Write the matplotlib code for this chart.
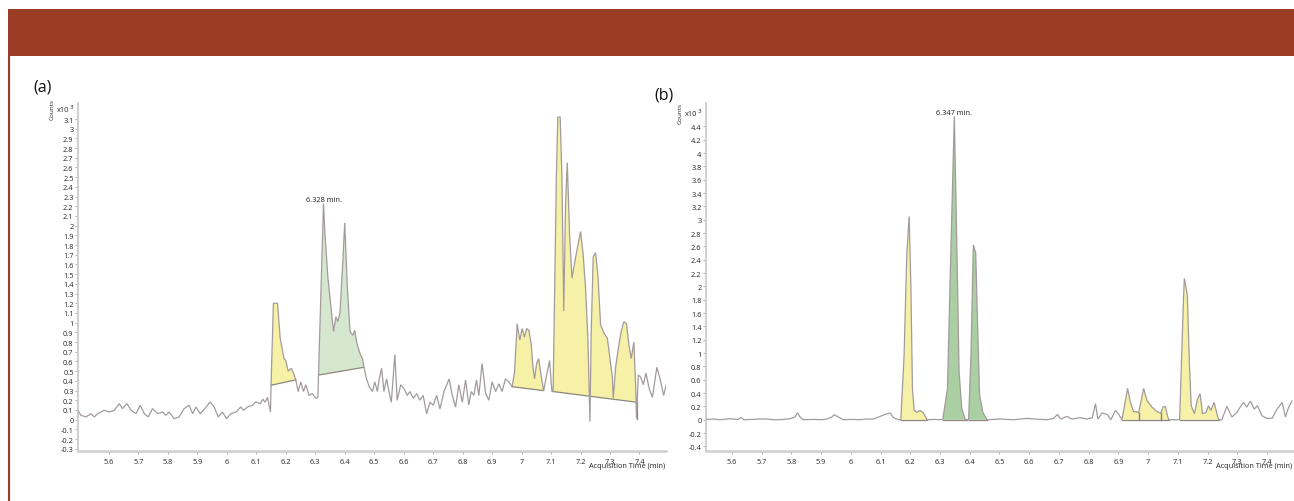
import numpy as np
import matplotlib
matplotlib.use("Agg")
import matplotlib.pyplot as plt
from matplotlib.patches import Rectangle
from matplotlib.lines import Line2D

plt.rcParams['font.family'] = ['Open Sans', 'DejaVu Sans']

W, H = 1294, 502

# ---------------- Panel (a) data (x10^3 counts) ----------------
a_time = [5.494, 5.505, 5.522, 5.539, 5.550, 5.562, 5.584, 5.601, 5.618, 5.635,
          5.646, 5.661, 5.675, 5.692, 5.706, 5.720, 5.733, 5.748, 5.765, 5.782,
          5.793, 5.804, 5.821, 5.838, 5.855, 5.872, 5.884, 5.895, 5.910, 5.925,
          5.943, 5.957, 5.971, 5.985, 5.999, 6.014, 6.031, 6.047, 6.057, 6.070,
          6.087, 6.098, 6.113, 6.122, 6.130, 6.138, 6.148, 6.150, 6.158, 6.172,
          6.181, 6.194, 6.200, 6.208, 6.219, 6.226, 6.234, 6.242, 6.251, 6.260,
          6.268, 6.279, 6.290, 6.302, 6.309, 6.311, 6.328, 6.333, 6.343, 6.355,
          6.362, 6.370, 6.377, 6.384, 6.393, 6.400, 6.409, 6.418, 6.427, 6.434,
          6.441, 6.452, 6.460, 6.465, 6.474, 6.483, 6.494, 6.502, 6.511, 6.517,
          6.525, 6.533, 6.542, 6.550, 6.558, 6.570, 6.578, 6.590, 6.601, 6.612,
          6.621, 6.633, 6.644, 6.655, 6.666, 6.678, 6.689, 6.700, 6.712, 6.723,
          6.737, 6.754, 6.765, 6.776, 6.787, 6.799, 6.810, 6.821, 6.829, 6.838,
          6.847, 6.855, 6.866, 6.878, 6.889, 6.900, 6.912, 6.923, 6.934, 6.945,
          6.957, 6.968, 6.976, 6.985, 6.994, 7.002, 7.010, 7.017, 7.025, 7.033,
          7.039, 7.044, 7.051, 7.058, 7.066, 7.075, 7.087, 7.095, 7.103, 7.107,
          7.118, 7.123, 7.131, 7.137, 7.143, 7.149, 7.155, 7.163, 7.171, 7.183,
          7.200, 7.209, 7.217, 7.225, 7.232, 7.236, 7.243, 7.251, 7.259, 7.268,
          7.280, 7.291, 7.300, 7.308, 7.311, 7.319, 7.330, 7.338, 7.347, 7.356,
          7.364, 7.372, 7.381, 7.387, 7.390, 7.396, 7.404, 7.413, 7.422, 7.433,
          7.444, 7.459, 7.470, 7.482, 7.493]
a_counts = [0.097, 0.045, 0.028, 0.062, 0.028, 0.062, 0.097, 0.079, 0.097, 0.165,
            0.114, 0.165, 0.097, 0.062, 0.148, 0.062, 0.028, 0.114, 0.062, 0.079,
            0.045, 0.079, 0.010, 0.028, 0.114, 0.148, 0.062, 0.131, 0.062, 0.114,
            0.183, 0.131, 0.028, 0.079, 0.010, 0.062, 0.079, 0.131, 0.097, 0.131,
            0.148, 0.183, 0.165, 0.21, 0.18, 0.23, 0.08, 0.355, 1.20, 1.20,
            0.84, 0.63, 0.61, 0.50, 0.53, 0.48, 0.41, 0.29, 0.39, 0.29,
            0.36, 0.25, 0.27, 0.22, 0.23, 0.46, 2.23, 1.91, 1.46, 1.11,
            0.91, 1.06, 1.01, 1.11, 1.60, 2.03, 1.35, 0.91, 0.87, 0.92,
            0.79, 0.68, 0.63, 0.54, 0.42, 0.34, 0.29, 0.39, 0.29, 0.42,
            0.53, 0.29, 0.42, 0.29, 0.18, 0.67, 0.20, 0.36, 0.32, 0.25,
            0.29, 0.22, 0.27, 0.20, 0.25, 0.06, 0.18, 0.15, 0.25, 0.11,
            0.29, 0.42, 0.25, 0.13, 0.36, 0.18, 0.41, 0.15, 0.29, 0.25,
            0.41, 0.25, 0.58, 0.27, 0.20, 0.39, 0.29, 0.37, 0.29, 0.42,
            0.39, 0.34, 0.49, 0.99, 0.82, 0.94, 0.85, 0.94, 0.92, 0.77,
            0.53, 0.42, 0.58, 0.63, 0.46, 0.30, 0.49, 0.61, 0.29, 0.29,
            2.50, 3.12, 3.12, 2.49, 1.12, 2.20, 2.65, 1.90, 1.46, 1.67,
            1.94, 1.70, 1.36, 0.84, -0.02, 0.87, 1.68, 1.72, 1.49, 0.98,
            0.89, 0.84, 0.63, 0.44, 0.22, 0.54, 0.77, 0.91, 1.01, 0.99,
            0.77, 0.63, 0.80, 0.36, 0.01, 0.46, 0.44, 0.36, 0.48, 0.32,
            0.23, 0.54, 0.42, 0.25, 0.39]
# integrated peaks: start, end, baseline at start, baseline at end, colour kind
a_peak_start = [6.150, 6.311, 6.968, 7.107]
a_peak_end = [6.234, 6.465, 7.075, 7.390]
a_base_start = [0.355, 0.46, 0.34, 0.29]
a_base_end = [0.41, 0.54, 0.30, 0.18]
a_peak_kind = ['yellow', 'green', 'yellow', 'yellow']
a_label_time, a_label_value, a_label_text = 6.328, 2.23, '6.328 min.'

# ---------------- Panel (b) data (x10^3 counts) ----------------
b_time = [5.515, 5.540, 5.560, 5.593, 5.621, 5.630, 5.640, 5.672, 5.700, 5.717,
          5.740, 5.762, 5.795, 5.812, 5.820, 5.829, 5.840, 5.874, 5.900, 5.919,
          5.936, 5.944, 5.958, 5.975, 6.008, 6.031, 6.053, 6.076, 6.098, 6.115,
          6.132, 6.143, 6.160, 6.168, 6.179, 6.188, 6.196, 6.202, 6.207, 6.213,
          6.222, 6.233, 6.244, 6.256, 6.280, 6.309, 6.325, 6.336, 6.348, 6.356,
          6.364, 6.373, 6.384, 6.392, 6.396, 6.404, 6.412, 6.420, 6.426, 6.433,
          6.444, 6.458, 6.502, 6.547, 6.592, 6.620, 6.660, 6.682, 6.695, 6.706,
          6.727, 6.743, 6.770, 6.795, 6.812, 6.823, 6.831, 6.845, 6.862, 6.875,
          6.890, 6.901, 6.912, 6.931, 6.940, 6.951, 6.962, 6.968, 6.985, 6.996,
          7.013, 7.030, 7.043, 7.050, 7.058, 7.063, 7.069, 7.080, 7.106, 7.119,
          7.122, 7.132, 7.139, 7.145, 7.156, 7.166, 7.175, 7.183, 7.195, 7.203,
          7.211, 7.222, 7.237, 7.248, 7.265, 7.282, 7.299, 7.310, 7.321, 7.332,
          7.344, 7.357, 7.368, 7.383, 7.400, 7.417, 7.434, 7.451, 7.462, 7.473,
          7.484]
b_counts = [0.005, 0.01, 0.0, 0.015, 0.005, 0.035, 0.0, 0.005, 0.012, 0.01,
            0.0, 0.0, 0.015, 0.04, 0.105, 0.04, 0.0, 0.005, 0.0, 0.01,
            0.04, 0.075, 0.04, 0.0, 0.005, 0.0, 0.01, 0.01, 0.05, 0.08,
            0.10, 0.03, 0.0, 0.0, 0.97, 2.47, 3.05, 1.97, 0.47, 0.14,
            0.11, 0.14, 0.10, 0.0, 0.005, 0.0, 0.47, 2.47, 4.55, 2.72,
            0.72, 0.17, 0.01, 0.0, 0.0, 0.97, 2.62, 2.50, 1.47, 0.37,
            0.11, 0.0, 0.01, 0.0, 0.02, 0.01, 0.0, 0.02, 0.08, 0.01,
            0.05, 0.01, 0.03, 0.01, 0.03, 0.24, 0.01, 0.10, 0.08, 0.0,
            0.14, 0.08, 0.0, 0.47, 0.27, 0.12, 0.12, 0.10, 0.47, 0.29,
            0.19, 0.12, 0.10, 0.19, 0.20, 0.10, 0.0, 0.0, 0.0, 1.81,
            2.12, 1.87, 0.82, 0.21, 0.09, 0.31, 0.39, 0.09, 0.11, 0.21,
            0.14, 0.26, 0.0, 0.0, 0.20, 0.04, 0.11, 0.19, 0.26, 0.19,
            0.28, 0.16, 0.21, 0.06, 0.02, 0.02, 0.16, 0.26, 0.04, 0.19,
            0.28]
b_peak_start = [6.168, 6.309, 6.396, 6.912, 6.968, 7.043, 7.106]
b_peak_end = [6.256, 6.392, 6.458, 6.968, 7.043, 7.069, 7.237]
b_base_start = [0.0, 0.0, 0.0, 0.0, 0.0, 0.0, 0.0]
b_base_end = [0.0, 0.0, 0.0, 0.0, 0.0, 0.0, 0.0]
b_peak_kind = ['yellow', 'green', 'green', 'yellow', 'yellow', 'yellow', 'yellow']
b_label_time, b_label_value, b_label_text = 6.347, 4.55, '6.347 min.'

# tick labels
x_ticks = [5.6, 5.7, 5.8, 5.9, 6.0, 6.1, 6.2, 6.3, 6.4, 6.5, 6.6, 6.7, 6.8, 6.9,
           7.0, 7.1, 7.2, 7.3, 7.4]
a_yticks = [round(-0.3 + 0.1 * i, 1) for i in range(35)]
b_yticks = [round(-0.4 + 0.2 * i, 1) for i in range(25)]

# ---------------- styling ----------------
BROWN = '#9b3c26'
TRACE = '#a39b9b'
EDGE = '#8c877c'
FILLS = {'yellow': '#f6f1a6', 'green': None}
GREEN_A = '#d5e7cf'
GREEN_B = '#a9cfa3'


def fmt(v):
    if abs(v - round(v)) < 1e-9:
        return '%d' % round(v)
    s = '%.1f' % v
    return s


fig = plt.figure(figsize=(W / 100, H / 100), dpi=100)
fig.patch.set_facecolor('white')

# header bar and left border
fig.patches.append(Rectangle((8 / W, 1 - 57 / H), (W - 8) / W, 47 / H,
                             transform=fig.transFigure, facecolor=BROWN,
                             edgecolor='none', zorder=0))
fig.lines.append(Line2D([8.5 / W, 8.5 / W], [0, 1 - 57 / H], transform=fig.transFigure,
                        color=BROWN, lw=1.5))


def px(x, y):
    return x / W, 1 - y / H


def make_panel(rect_px, xlim, ylim, t, v, starts, ends, bs, be, kinds, green,
               yticks, label, label_time, label_value, top_label_y, panel_letter,
               letter_pos, counts_x, x10_right):
    l, r, top, bot = rect_px
    ax = fig.add_axes([l / W, 1 - bot / H, (r - l) / W, (bot - top) / H])
    t = np.asarray(t)
    v = np.asarray(v)
    for s, e, b0, b1, k in zip(starts, ends, bs, be, kinds):
        m = (t >= s - 1e-9) & (t <= e + 1e-9)
        tt, vv = t[m], v[m]
        base = np.interp(tt, [s, e], [b0, b1])
        col = FILLS['yellow'] if k == 'yellow' else green
        ax.fill_between(tt, vv, base, where=vv >= base, interpolate=True,
                        facecolor=col, edgecolor='none', zorder=1)
        ax.plot([s, e], [b0, b1], color=EDGE, lw=0.9, zorder=2)
        ax.plot([s, s], [b0, vv[0]], color=EDGE, lw=0.9, zorder=2)
        ax.plot([e, e], [b1, vv[-1]], color=EDGE, lw=0.9, zorder=2)
    ax.plot(t, v, color=TRACE, lw=0.9, zorder=3, solid_joinstyle='miter')
    ax.set_xlim(*xlim)
    ax.set_ylim(*ylim)
    ax.set_xticks(x_ticks)
    ax.set_xticklabels([fmt(x) for x in x_ticks])
    ax.set_yticks(yticks)
    ax.set_yticklabels([fmt(y) for y in yticks])
    for sp in ['top', 'right']:
        ax.spines[sp].set_visible(False)
    ax.spines['left'].set_color('#cfcfcf')
    ax.spines['left'].set_linewidth(1.4)
    ax.spines['bottom'].set_color('#cfcfcf')
    ax.spines['bottom'].set_linewidth(1.8)
    ax.tick_params(axis='both', length=2.2, width=0.7, color='#b0b0b0',
                   labelsize=5.3, labelcolor='#262626')
    ax.tick_params(axis='y', pad=1.0)
    ax.tick_params(axis='x', pad=2.5)
    ax.patch.set_alpha(0)
    ax.text(label_time, label_value, label, ha='center', va='bottom',
            fontsize=5.3, color='#222222', transform=ax.transData)
    # axis decorations
    fig.text(*px(r - 1, 467), 'Acquisition Time (min)', ha='right', va='center',
             fontsize=5.3, color='#222222')
    fig.text(*px(x10_right, top_label_y), 'x10', ha='right', va='center',
             fontsize=5.3, color='#222222')
    fig.text(*px(x10_right + 0.8, top_label_y - 2.5), '3', ha='left', va='center',
             fontsize=4.5, color='#222222')
    fig.text(*px(counts_x, top_label_y), 'Counts', ha='center', va='center',
             rotation=90, fontsize=4.6, color='#222222')
    fig.text(*px(*letter_pos), panel_letter, ha='left', va='center',
             fontsize=11.5, color='#111111')
    return ax


make_panel((78, 666, 104, 452), (5.495, 7.49), (-0.323, 3.265),
           a_time, a_counts, a_peak_start, a_peak_end, a_base_start, a_base_end,
           a_peak_kind, GREEN_A, a_yticks, a_label_text, a_label_time, a_label_value,
           110, '(a)', (33, 88), 52, 69)

make_panel((706, 1293, 104, 452), (5.5125, 7.4875), (-0.469, 4.75),
           b_time, b_counts, b_peak_start, b_peak_end, b_base_start, b_base_end,
           b_peak_kind, GREEN_B, b_yticks, b_label_text, b_label_time, b_label_value,
           114, '(b)', (654, 96), 680, 697)

fig.savefig('out.png', dpi=100)
